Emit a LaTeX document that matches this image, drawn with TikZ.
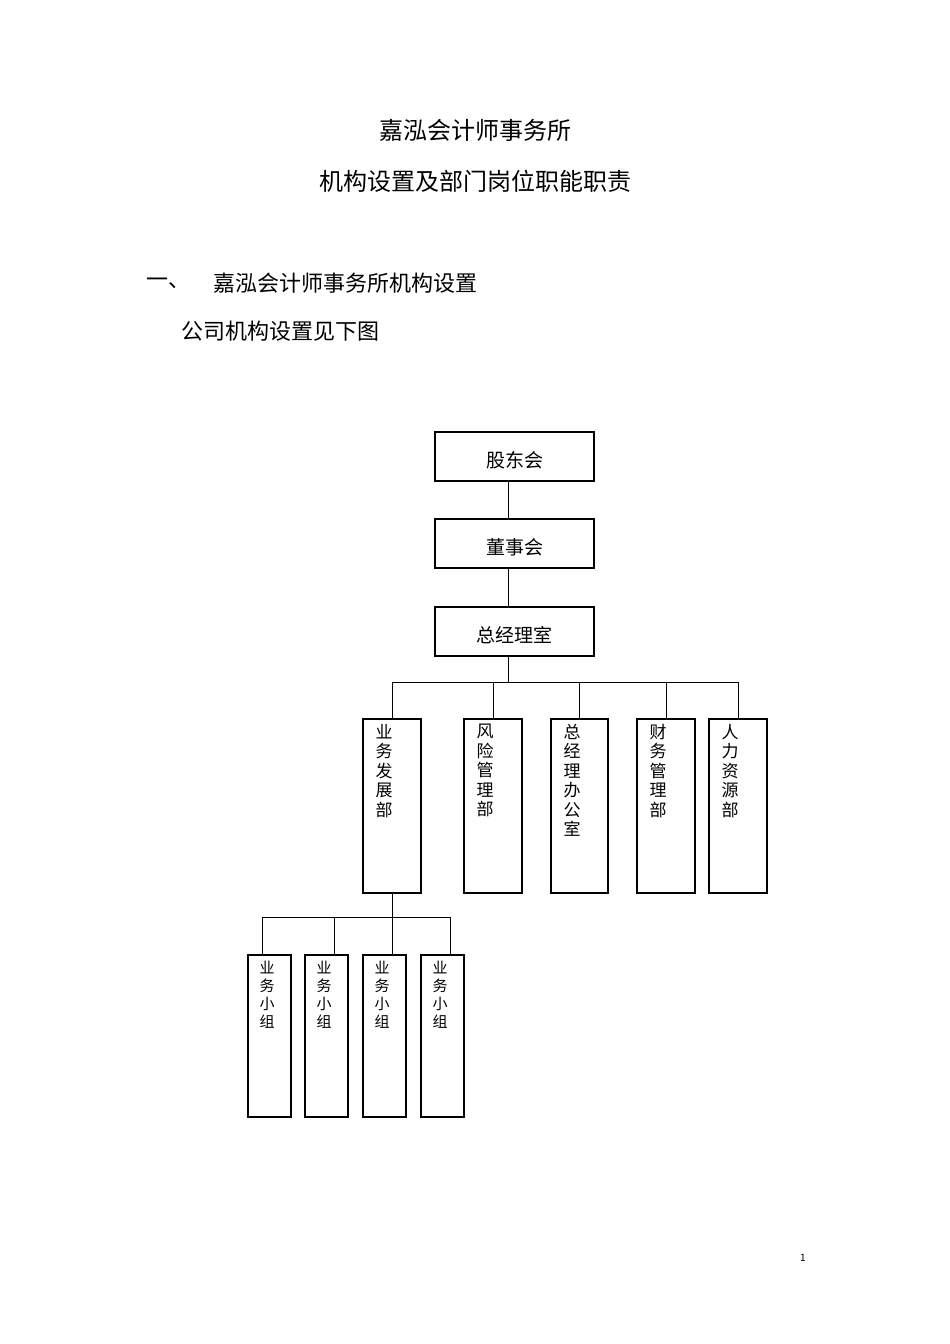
\documentclass[tikz,border=0pt]{standalone}
\usepackage{fontspec}
\setmainfont{Noto Sans CJK SC}
\newfontfamily\cjk{Noto Sans CJK SC}
\begin{document}
\begin{tikzpicture}[x=1pt,y=-1pt,
 box/.style={draw,line width=1.2pt,inner sep=0pt},
 vt/.style={anchor=north,align=center,font=\fontsize{17}{19.5}\selectfont,inner sep=0pt},
 vs/.style={anchor=north,align=center,font=\fontsize{15}{18}\selectfont,inner sep=0pt},
 ln/.style={line width=0.8pt}]
\useasboundingbox (0,0) rectangle (950,1344);
\node (t1) at (475,130) {\fontsize{24}{28}\selectfont 嘉泓会计师事务所};
\node (t2) at (475,181) {\fontsize{24}{28}\selectfont 机构设置及部门岗位职能职责};
\node[anchor=west] (h1) at (143,283) {\fontsize{22}{26}\selectfont 一、};
\node[anchor=west] (h2) at (210,283) {\fontsize{22}{26}\selectfont 嘉泓会计师事务所机构设置};
\node[anchor=west] (h3) at (178,331) {\fontsize{22}{26}\selectfont 公司机构设置见下图};
\node (pg) at (803,1258) {\fontsize{10}{12}\selectfont 1};
% top boxes
\draw[box] (435,432) rectangle (594,481); \node (a) at (514.5,460) {\fontsize{19}{22}\selectfont 股东会};
\draw[box] (435,519) rectangle (594,568); \node (b) at (514.5,547) {\fontsize{19}{22}\selectfont 董事会};
\draw[box] (435,607) rectangle (594,656); \node (c) at (514.5,635) {\fontsize{19}{22}\selectfont 总经理室};
\draw[ln] (508,481)--(508,519);
\draw[ln] (508,568)--(508,607);
\draw[ln] (508,656)--(508,682);
\draw[ln] (392,682)--(738,682);
\foreach \x in {392,493,579,666,738} \draw[ln] (\x,682)--(\x,719);
% departments
\foreach \l/\r/\t in {363/421/{业\\务\\发\\展\\部},464/522/{风\\险\\管\\理\\部},551/608/{总\\经\\理\\办\\公\\室},637/695/{财\\务\\管\\理\\部},709/767/{人\\力\\资\\源\\部}}{
 \draw[box] (\l,719) rectangle (\r,893);
 \node[vt] at ({\l+21},724) {\t};
}
\draw[ln] (392,893)--(392,917);
\draw[ln] (262,917)--(450,917);
\foreach \x in {262,334,392,450} \draw[ln] (\x,917)--(\x,955);
\foreach \l in {248,305,363,421}{
 \draw[box] (\l,955) rectangle ({\l+43},1117);
 \node[vs] at ({\l+19},961) {业\\务\\小\\组};
}
\end{tikzpicture}
\end{document}
